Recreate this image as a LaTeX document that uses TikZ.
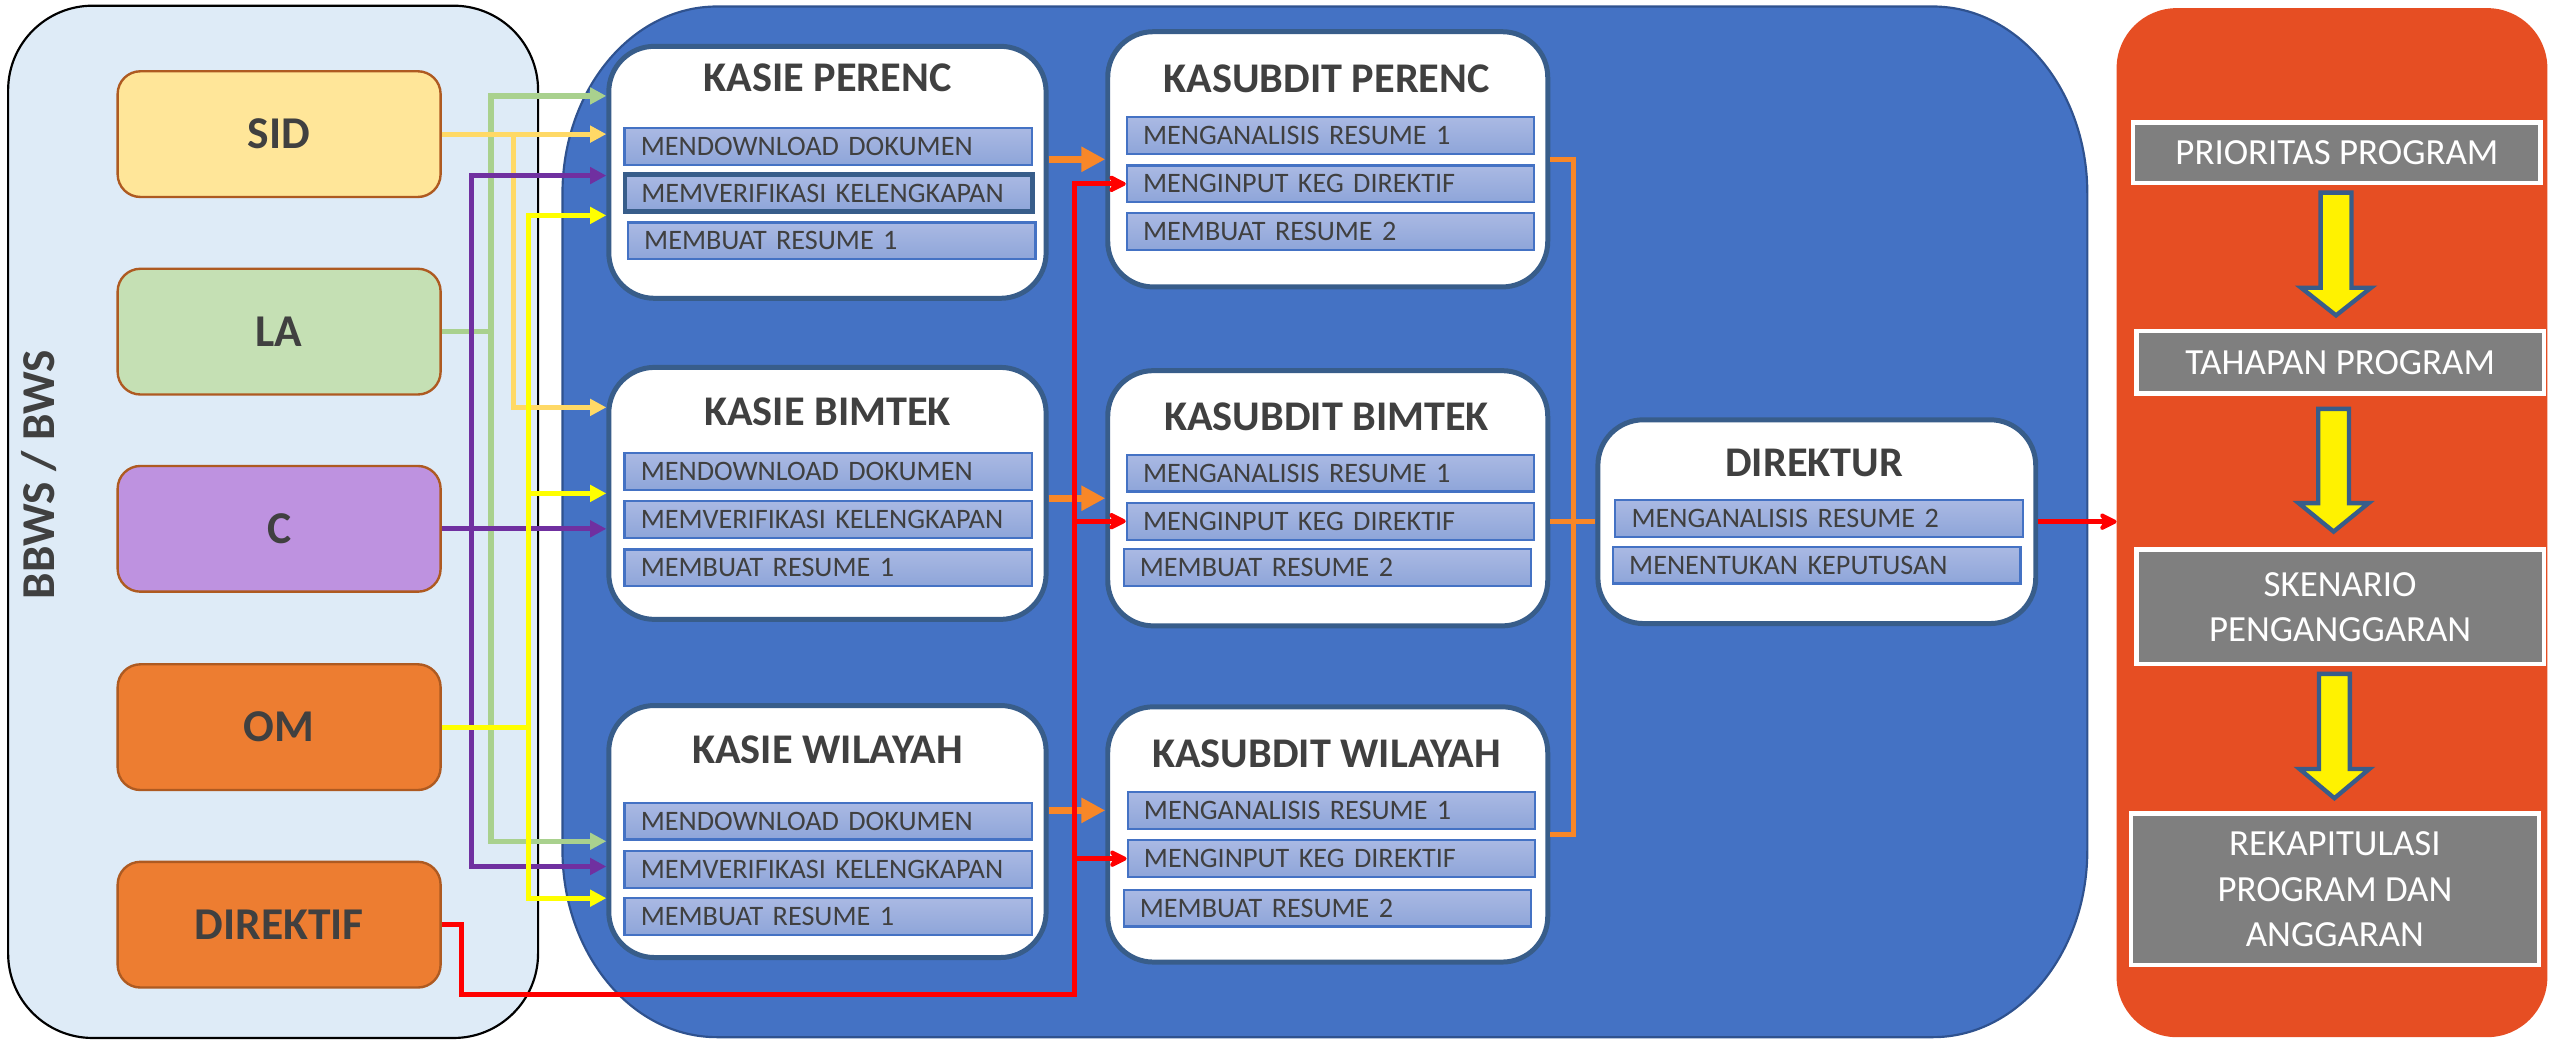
\documentclass[tikz,border=0pt]{standalone}
\usepackage{fontspec}
\setmainfont{Carlito}
\usetikzlibrary{arrows.meta,positioning}

\definecolor{leftbg}{RGB}{222,235,247}
\definecolor{panelblue}{RGB}{68,114,196}
\definecolor{panelblueline}{RGB}{47,82,143}
\definecolor{boxline}{RGB}{56,93,138}
\definecolor{rightbg}{RGB}{230,78,35}
\definecolor{stagegrey}{RGB}{127,127,127}
\definecolor{sidfill}{RGB}{255,230,153}
\definecolor{lafill}{RGB}{197,224,180}
\definecolor{cfill}{RGB}{190,146,224}
\definecolor{omfill}{RGB}{237,125,49}
\definecolor{srcline}{RGB}{174,90,33}
\definecolor{txtgrey}{RGB}{64,64,64}
\definecolor{rowtop}{RGB}{170,185,227}
\definecolor{rowbot}{RGB}{142,165,217}
\definecolor{rowline}{RGB}{68,114,196}
\definecolor{sidline}{RGB}{255,217,102}
\definecolor{laline}{RGB}{169,209,142}
\definecolor{cline}{RGB}{112,48,160}
\definecolor{omline}{RGB}{255,255,0}
\definecolor{handorange}{RGB}{248,135,40}

\tikzset{every picture/.style={line width=0.75pt}}
\tikzset{
  srcbox/.style={draw=srcline, line width=1.1pt, rounded corners=10.5pt, minimum width=149pt, minimum height=58pt, inner sep=0pt, text=txtgrey, font=\fontsize{21}{25}\selectfont\bfseries},
  unitbox/.style={draw=boxline, line width=2.3pt, fill=white, rounded corners=21pt, inner sep=0pt},
  unittitle/.style={text=txtgrey, inner sep=0pt, font=\fontsize{19.5}{23}\selectfont\bfseries},
  taskrow/.style={draw=rowline, line width=1pt, top color=rowtop, bottom color=rowbot, anchor=west, minimum height=17pt, inner ysep=0pt, inner xsep=7.5pt, text width=173pt, align=left, text=txtgrey, font=\fontsize{13}{15}\selectfont},
  stagebox/.style={draw=white, line width=2pt, fill=stagegrey, minimum width=188pt, inner sep=0pt, text=white, align=center, font=\fontsize{17}{20.8}\selectfont},
  blockarrow/.style={draw=boxline, line width=2pt, fill=yellow},
  feed/.style={line width=2.4pt, -{Triangle[length=7.5pt,width=7.5pt]}},
  handover/.style={draw=handorange, line width=3pt, -{Triangle[length=11pt,width=11pt]}},
  directive/.style={draw=red, line width=2.3pt, -{Stealth[length=10pt,width=10pt,inset=3pt,round]}},
}

\begin{document}
\begin{tikzpicture}[x=0.75pt,y=0.75pt,yscale=-1,xscale=1]
\useasboundingbox (0,0) rectangle (1568,643);

%Shape: Rounded Rect [left panel]
\draw [fill=leftbg, line width=1pt, rounded corners=39pt] (5,3.5) rectangle (331,638.5) ;
%Shape: Rounded Rect [middle panel]
\draw [fill=panelblue, draw=panelblueline, line width=1pt] (346,119) .. controls (346,55.5) and (388.5,4) .. (441,4) -- (1189,4) .. controls (1241.5,4) and (1284,55.5) .. (1284,119) -- (1284,523) .. controls (1284,586.5) and (1241.5,638) .. (1189,638) -- (441,638) .. controls (388.5,638) and (346,586.5) .. (346,523) -- cycle ;
%Shape: Rounded Rect [right panel]
\fill [rightbg, rounded corners=27.75pt] (1302,5) rectangle (1567,638) ;

% Text Node
\node [rotate=90, text=txtgrey, inner sep=0pt, font=\fontsize{21.75}{26}\selectfont\bfseries] (bbws) at (24,292) {BBWS / BWS};

%Sources
\node [srcbox, fill=sidfill] (sid) at (171.7,82.5) {SID};
\node [srcbox, fill=lafill] (la) at (171.7,204) {LA};
\node [srcbox, fill=cfill] (cc) at (171.7,325.3) {C};
\node [srcbox, fill=omfill] (om) at (171.7,447.3) {OM};
\node [srcbox, fill=omfill] (dir) at (171.7,568.8) {DIREKTIF};

%Kasie boxes
\node [unitbox, minimum width=201.75pt, minimum height=116.25pt] (kp) at (509,106) {};
\node [unitbox, minimum width=201.75pt, minimum height=116.25pt] (kb) at (509,303.5) {};
\node [unitbox, minimum width=201.75pt, minimum height=116.25pt] (kw) at (509,511.5) {};
%Kasubdit boxes
\node [unitbox, minimum width=203pt, minimum height=117.75pt] (sp) at (816.75,98) {};
\node [unitbox, minimum width=203pt, minimum height=117.75pt] (sb) at (816.75,306.5) {};
\node [unitbox, minimum width=203pt, minimum height=117.75pt] (sw) at (816.75,513.3) {};
%Direktur box
\node [unitbox, minimum width=202pt, minimum height=94pt] (dk) at (1117.6,320.9) {};

% Text Node
\node [unittitle] (kpt) at (509,48) {KASIE PERENC};
\node [unittitle] (kbt) at (509,253.2) {KASIE BIMTEK};
\node [unittitle] (kwt) at (509,461.5) {KASIE WILAYAH};
\node [unittitle] (spt) at (816,48.2) {KASUBDIT PERENC};
\node [unittitle] (sbt) at (816,256.3) {KASUBDIT BIMTEK};
\node [unittitle] (swt) at (816,463.6) {KASUBDIT WILAYAH};
\node [unittitle] (dkt) at (1116,285) {DIREKTUR};

%Rows kasie
\node [taskrow] (kp1) at (383.5,90) {MENDOWNLOAD DOKUMEN};
\node [taskrow, draw=boxline, line width=2.2pt] (kp2) at (383,118.7) {MEMVERIFIKASI KELENGKAPAN};
\node [taskrow] (kp3) at (385.6,148.2) {MEMBUAT RESUME 1};
\node [taskrow] (kb1) at (383.5,290.2) {MENDOWNLOAD DOKUMEN};
\node [taskrow] (kb2) at (383.5,319.5) {MEMVERIFIKASI KELENGKAPAN};
\node [taskrow] (kb3) at (383.5,349.3) {MEMBUAT RESUME 1};
\node [taskrow] (kw1) at (383.5,505.1) {MENDOWNLOAD DOKUMEN};
\node [taskrow] (kw2) at (383.5,534.9) {MEMVERIFIKASI KELENGKAPAN};
\node [taskrow] (kw3) at (383.5,563.7) {MEMBUAT RESUME 1};
%Rows kasubdit
\node [taskrow] (sp1) at (692.5,83.5) {MENGANALISIS RESUME 1};
\node [taskrow] (sp2) at (692.5,113.1) {MENGINPUT KEG DIREKTIF};
\node [taskrow] (sp3) at (692.5,142.5) {MEMBUAT RESUME 2};
\node [taskrow] (sb1) at (692.5,291) {MENGANALISIS RESUME 1};
\node [taskrow] (sb2) at (692.5,320.6) {MENGINPUT KEG DIREKTIF};
\node [taskrow] (sb3) at (690.5,349.2) {MEMBUAT RESUME 2};
\node [taskrow] (sw1) at (693,498.5) {MENGANALISIS RESUME 1};
\node [taskrow] (sw2) at (693,528.2) {MENGINPUT KEG DIREKTIF};
\node [taskrow] (sw3) at (690.5,558.6) {MEMBUAT RESUME 2};
%Rows direktur
\node [taskrow] (dk1) at (993,318.9) {MENGANALISIS RESUME 2};
\node [taskrow] (dk2) at (991.5,347.6) {MENENTUKAN KEPUTUSAN};

%Stages
\node [stagebox, minimum height=28pt] (prio) at (1437.5,94) {PRIORITAS PROGRAM};
\node [stagebox, minimum height=29pt] (taha) at (1439.5,222.8) {TAHAPAN PROGRAM};
\node [stagebox, minimum height=53pt] (sken) at (1439.5,373.3) {SKENARIO\\PENGANGGARAN};
\node [stagebox, minimum height=70pt] (reka) at (1436.3,547) {REKAPITULASI\\PROGRAM DAN\\ANGGARAN};

%Shape: Down Arrow
\draw [blockarrow] (1427.5,118.5) -- (1446.5,118.5) -- (1446.5,177) -- (1458.5,177) -- (1437,194) -- (1415.5,177) -- (1427.5,177) -- cycle ;
%Shape: Down Arrow
\draw [blockarrow] (1426,251.5) -- (1445,251.5) -- (1445,309.5) -- (1457,309.5) -- (1435.5,327) -- (1414,309.5) -- (1426,309.5) -- cycle ;
%Shape: Down Arrow
\draw [blockarrow] (1426.5,414.5) -- (1445.5,414.5) -- (1445.5,473) -- (1457.5,473) -- (1436,491) -- (1414.5,473) -- (1426.5,473) -- cycle ;

\coordinate (laup) at (302,59);
\coordinate (ladn) at (302,517.5);
\coordinate (siddn) at (316,250.6);
\coordinate (cup) at (290,108);
\coordinate (cdn) at (290,533);
\coordinate (omup) at (325,132.5);
\coordinate (ommid) at (325,303.5);
\coordinate (omdn) at (325,552.5);
\coordinate (dirbend) at (283.6,611.5);
\coordinate (redbus) at (661,611.5);
\coordinate (brk) at (968,98);
\coordinate (inbox) at (1302,322);

%Connectors LA
\draw [feed, draw=laline] (la.east) -| (laup) -- (laup -| kp.west) ;
\draw [feed, draw=laline] (la.east) -| (ladn) -- (ladn -| kw.west) ;
%Connectors SID
\draw [feed, draw=sidline] (sid.east) -- (sid.east -| kp.west) ;
\draw [feed, draw=sidline] (sid.east -| siddn) -- (siddn) -- (siddn -| kb.west) ;
%Connectors C
\draw [feed, draw=cline] (cc.east) -- (cc.east -| kb.west) ;
\draw [feed, draw=cline] (cc.east -| cup) -- (cup) -- (cup -| kp.west) ;
\draw [feed, draw=cline] (cc.east -| cdn) -- (cdn) -- (cdn -| kw.west) ;
%Connectors OM
\draw [feed, draw=omline] (om.east) -| (omup) -- (omup -| kp.west) ;
\draw [feed, draw=omline] (om.east -| ommid) -- (ommid) -- (ommid -| kb.west) ;
\draw [feed, draw=omline] (om.east -| omdn) -- (omdn) -- (omdn -| kw.west) ;

%Kasie to kasubdit
\draw [handover] (kp.east |- sp.west) -- (sp.west) ;
\draw [handover] (kb.east |- sb.west) -- (sb.west) ;
\draw [handover] (kw.east |- sw1.west) -- (sw.west |- sw1.west) ;

%Connectors DIREKTIF
\draw [directive] (dir.east) -| (dirbend) -- (redbus) -- (redbus |- sp2.west) -- (sp2.west) ;
\draw [directive] (redbus |- sb2.west) -- (sb2.west) ;
\draw [directive] (redbus |- sw2.west) -- (sw2.west) ;

%Kasubdit to direktur
\draw [draw=handorange, line width=2.2pt] (sp.east) -| (brk |- sw.east) -- (sw.east) ;
\draw [draw=handorange, line width=2.2pt] (sb.east |- dk.west) -- (dk.west) ;
\draw [directive, line width=2.6pt] (dk.east) -- (dk.east -| inbox) ;

\end{tikzpicture}
\end{document}
